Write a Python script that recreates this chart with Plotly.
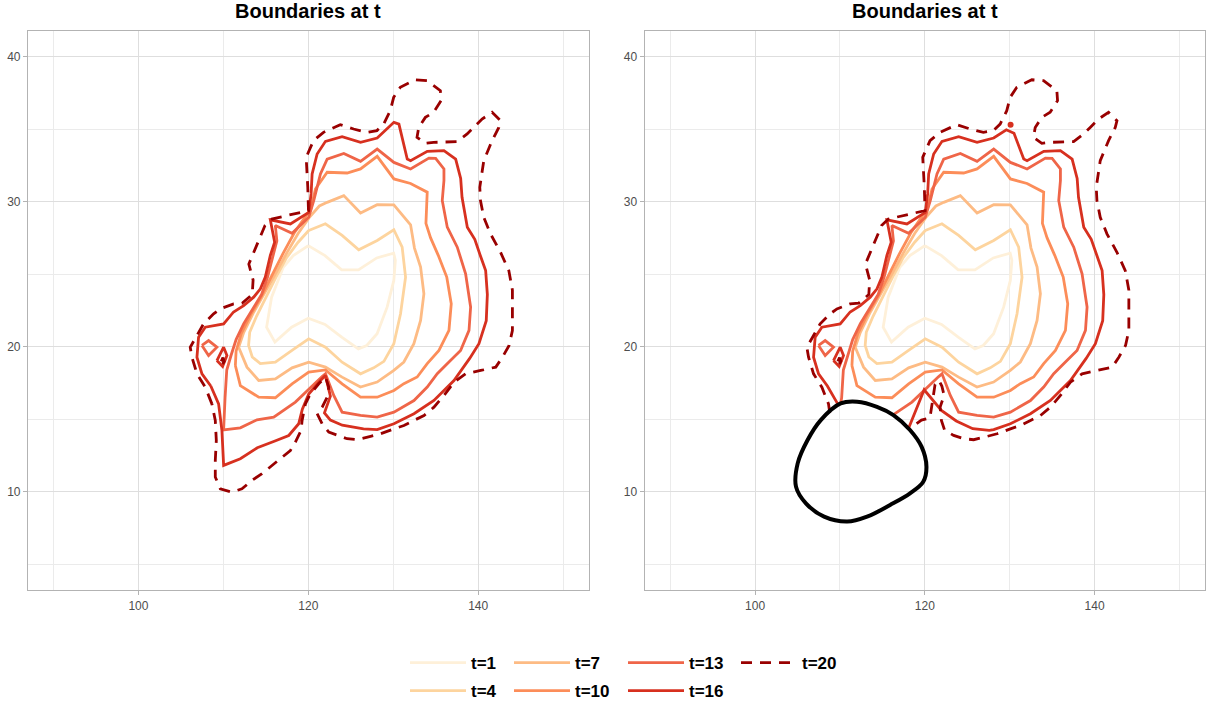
import plotly.graph_objects as go

# ---------------- data ----------------
T_LABELS = ["t=1", "t=4", "t=7", "t=10", "t=13", "t=16", "t=20"]
COLORS = ["#FEF0D9", "#FDD49E", "#FDBB84", "#FC8D59", "#EF6548", "#D7301F", "#990000"]
X_TICKS = [100, 120, 140]
X_MINOR = [90, 110, 130, 150]
Y_TICKS = [10, 20, 30, 40]
Y_MINOR = [5, 15, 25, 35]
PANEL_TITLES = ["Boundaries at t", "Boundaries at t"]

T1 = [(120.0, 26.97), (121.97, 26.28), (123.93, 25.3), (125.9, 25.3), (128.06, 26.12), (130.05, 26.45),
      (130.25, 25.95), (130.07, 24.57), (129.28, 22.73), (128.1, 20.9), (126.88, 20.09), (125.9, 19.86),
      (123.93, 20.67), (121.97, 21.54), (120.0, 21.97), (118.03, 21.35), (116.07, 20.32), (115.09, 21.35),
      (115.68, 23.42), (117.05, 25.48), (118.23, 26.28), (120.0, 26.97)]

T4 = [(120.05, 28.01), (122.01, 28.47), (123.98, 27.67), (125.94, 26.68), (128.11, 27.32), (130.07, 28.06),
      (131.05, 26.86), (131.45, 24.8), (130.86, 22.28), (130.07, 20.21), (128.9, 19.0), (127.7, 18.55),
      (126.15, 18.14), (123.98, 18.94), (122.02, 19.97), (120.05, 20.55), (118.08, 19.75), (116.12, 18.95),
      (114.35, 18.84), (113.4, 19.3), (112.97, 20.1), (113.1, 21.0), (113.9, 22.1), (115.0, 23.4),
      (116.2, 24.8), (117.4, 26.1), (118.8, 27.2), (120.05, 28.01)]

T7 = [(111.8, 19.97), (112.4, 21.0), (113.5, 22.3), (114.8, 23.6), (116.1, 25.0), (117.4, 26.4), (118.8, 27.8),
      (120.1, 28.9), (121.3, 29.7), (122.22, 29.95), (124.18, 30.41), (126.15, 29.22), (128.11, 29.79),
      (130.07, 29.78), (132.04, 28.4), (132.5, 26.8), (133.22, 25.49), (133.61, 23.65), (133.22, 21.82),
      (132.43, 20.21), (131.25, 18.95), (130.07, 18.38), (128.1, 17.57), (126.14, 17.23), (123.98, 17.91),
      (122.02, 18.6), (120.05, 18.94), (118.09, 18.55), (116.12, 17.79), (114.16, 17.68), (112.78, 18.6),
      (111.8, 19.97)]

T10 = [(111.41, 18.71), (111.5, 19.7), (112.1, 20.9), (113.2, 22.2), (114.5, 23.5), (115.7, 24.9), (117.0, 26.4),
       (118.4, 27.9), (119.6, 28.9), (120.3, 29.5), (120.84, 30.87), (122.22, 32.02), (124.57, 31.97),
       (126.15, 32.25), (128.11, 33.12), (130.08, 31.56), (132.04, 31.25), (134.0, 30.65), (133.85, 28.5),
       (134.4, 27.5), (135.3, 26.3), (136.3, 24.8), (136.83, 22.96), (136.56, 21.13), (135.38, 19.75),
       (134.0, 18.84), (132.82, 17.92), (131.25, 17.46), (130.08, 16.99), (128.11, 16.53), (126.15, 16.53),
       (123.98, 17.45), (122.02, 18.41), (120.05, 18.25), (118.09, 17.45), (116.12, 16.49), (114.16, 16.53),
       (112.0, 17.33), (111.41, 18.71)]

T13_MAIN = [(110.2, 16.5), (110.4, 18.4), (110.9, 19.4), (111.5, 20.5), (112.4, 21.6), (113.5, 22.6),
            (114.5, 23.6), (115.2, 24.8), (115.8, 26.2), (116.3, 27.3), (116.12, 28.35), (118.09, 27.82),
            (120.05, 28.92), (120.64, 30.07), (121.43, 31.9), (122.22, 32.93), (124.18, 33.32), (126.15, 32.77),
            (128.11, 33.62), (130.08, 32.7), (132.04, 32.25), (134.2, 33.0), (134.99, 32.98), (135.97, 32.25),
            (135.97, 31.45), (135.77, 30.08), (136.36, 28.24), (137.54, 26.86), (138.52, 25.03), (139.11, 22.73),
            (138.92, 21.13), (137.93, 19.75), (136.56, 18.95), (135.18, 18.15), (134.0, 17.23), (132.44, 16.3),
            (130.08, 15.5), (128.11, 15.16), (126.15, 15.27), (123.98, 15.5), (123.0, 16.65), (122.02, 18.14),
            (121.63, 17.95), (119.86, 16.99), (118.48, 16.19)]
T13_BOTTOM_L = [(115.93, 15.15), (113.96, 14.97), (112.0, 14.42), (110.03, 14.28), (110.2, 16.5)]
T13_START_R = [(110.1, 16.12)]
T13_END_R = [(116.3, 15.33)]
T13_ISLAND = [(107.48, 20.09), (108.26, 20.43), (109.24, 19.97), (108.26, 19.4), (107.48, 20.09)]

T16_MAIN_A = [(108.52, 17.3), (107.48, 18.14), (106.89, 19.28), (107.08, 20.66), (107.87, 21.35), (110.03, 21.58),
              (111.2, 22.4), (112.39, 22.84), (113.57, 23.42), (114.36, 23.99), (114.94, 24.8), (115.53, 26.29),
              (116.04, 27.2), (115.53, 28.74), (117.89, 28.46), (120.05, 29.26), (120.33, 30.53), (120.45, 31.9),
              (121.04, 33.28), (122.02, 34.15), (123.98, 34.47), (126.15, 34.08), (128.11, 34.38)]
T16_SPIKE_L = [(130.08, 35.46), (130.67, 35.34)]
T16_SPIKE_R = [(129.6, 34.95), (130.5, 34.7)]
T16_MAIN_B = [(131.65, 32.93), (132.04, 32.82), (134.01, 33.46), (135.97, 33.51), (137.35, 32.93), (137.94, 31.6),
              (138.1, 30.3), (138.72, 28.24), (139.6, 27.4), (140.3, 26.2), (140.88, 25.26), (141.08, 23.6),
              (140.95, 21.8), (140.09, 20.21), (139.0, 19.2), (137.15, 17.68), (134.79, 16.3), (132.44, 15.39),
              (130.08, 14.7), (128.11, 14.3)]
T16_BOTTOM_L = [(126.5, 14.35), (124.0, 14.6), (122.6, 14.95), (121.9, 15.45), (122.2, 16.0), (122.6, 16.6),
                (122.02, 18.02), (121.43, 17.68), (120.05, 16.75), (119.3, 15.7), (118.87, 14.7), (117.7, 13.89),
                (116.0, 13.5), (114.0, 13.05), (112.0, 12.29), (110.03, 11.83), (109.83, 14.24), (109.44, 16.07),
                (108.52, 17.3)]
T16_START_R = [(109.75, 16.05)]
T16_BOTTOM_R = [(127.59, 14.25), (125.64, 14.36), (123.7, 14.89), (121.95, 15.62), (119.92, 17.04), (118.06, 14.36)]
T16_ISLAND = [(109.24, 19.05), (110.03, 19.97), (110.42, 19.4), (109.91, 18.64), (109.24, 19.05)]
T16_DOT_R = [(130.1, 35.3)]

T20_MAIN = [(108.65, 16.07), (107.87, 17.22), (106.89, 18.14), (106.3, 19.28), (106.1, 19.97), (106.89, 20.78),
            (107.67, 21.58), (108.85, 22.27), (109.64, 22.61), (111.21, 22.96), (112.2, 23.0), (113.4, 23.6),
            (113.5, 24.6), (113.0, 25.7), (113.96, 27.09), (114.9, 28.35), (115.7, 28.8), (117.47, 29.04),
            (120.02, 29.38), (119.94, 30.99), (119.75, 33.05), (120.61, 34.2), (121.79, 34.77), (123.76, 35.3),
            (125.33, 35.0), (126.9, 34.77), (128.08, 34.89), (128.87, 35.34), (129.65, 36.26), (130.05, 37.18),
            (130.83, 37.87), (132.6, 38.39), (133.98, 38.33), (135.55, 37.64), (135.63, 36.95), (134.76, 36.15),
            (133.78, 35.8), (133.0, 35.11), (132.8, 34.43), (133.78, 34.01), (134.76, 34.08), (137.52, 34.13),
            (138.7, 34.66), (139.48, 35.11), (140.46, 35.69), (141.64, 36.15), (142.63, 35.57), (142.43, 35.11),
            (141.64, 34.2), (140.66, 32.82), (140.19, 30.99), (140.27, 30.07), (140.66, 28.92), (141.45, 27.78),
            (142.63, 26.51), (143.61, 25.25), (144.03, 23.9), (144.03, 21.12), (143.64, 20.09), (142.85, 19.28),
            (142.07, 18.6), (140.3, 18.37), (138.53, 18.14), (137.15, 17.56), (135.97, 16.65), (134.79, 15.84),
            (133.62, 15.27), (132.44, 14.93), (131.26, 14.58), (130.08, 14.35), (128.51, 14.01), (127.33, 13.83),
            (125.75, 13.6), (124.57, 13.67), (123.39, 13.9)]
T20_BOTTOM_L = [(122.41, 14.12), (121.63, 14.7), (121.04, 15.39), (121.63, 15.84), (122.22, 16.53), (122.41, 17.22),
                (122.02, 17.91), (121.23, 17.45), (120.25, 16.76), (119.66, 16.07), (119.27, 14.93), (119.15, 14.24),
                (118.48, 13.44), (117.89, 12.86), (116.71, 12.29), (115.73, 11.83), (114.55, 11.26), (113.37, 10.8),
                (112.19, 10.22), (111.01, 9.99), (109.64, 10.22), (109.05, 11.03), (109.05, 12.17), (109.17, 13.55),
                (109.05, 14.93), (108.65, 16.07)]
T20_START_R = [(108.8, 15.45)]
T20_BOTTOM_R = [(122.33, 14.25), (121.95, 14.93), (121.8, 15.85), (122.27, 16.65), (122.0, 17.3), (121.65, 17.7),
                (121.2, 17.4), (120.9, 16.3), (120.6, 15.1), (119.6, 14.95), (118.15, 14.33)]
T20_ISLAND = [(109.75, 19.0), (109.95, 19.25), (110.1, 19.0), (109.9, 18.8), (109.75, 19.0)]

OBSTACLE = [(110.08, 16.1), (112.02, 16.22), (114.36, 15.87), (116.3, 15.3), (118.25, 14.27), (119.61, 13.12),
            (120.19, 11.74), (119.81, 10.71), (118.25, 9.91), (115.91, 9.11), (113.19, 8.3), (110.86, 7.96),
            (108.13, 8.3), (105.99, 9.22), (104.82, 10.37), (105.02, 11.97), (106.19, 13.58), (107.74, 14.95),
            (110.08, 16.1)]

# ---------------- assemble ----------------
LEFT = {
    "t=1": [T1], "t=4": [T4], "t=7": [T7], "t=10": [T10],
    "t=13": [T13_MAIN + T13_BOTTOM_L, T13_ISLAND],
    "t=16": [T16_MAIN_A + T16_SPIKE_L + T16_MAIN_B + T16_BOTTOM_L, T16_ISLAND],
    "t=20": [T20_MAIN + T20_BOTTOM_L, T20_ISLAND],
}
RIGHT = {
    "t=1": [T1], "t=4": [T4], "t=7": [T7], "t=10": [T10],
    "t=13": [T13_START_R + T13_MAIN + T13_END_R, T13_ISLAND],
    "t=16": [T16_START_R + T16_MAIN_A + T16_SPIKE_R + T16_MAIN_B + T16_BOTTOM_R, T16_ISLAND],
    "t=20": [T20_START_R + T20_MAIN + T20_BOTTOM_R, T20_ISLAND],
}
LEGEND_OF = {"t=1": "legend", "t=4": "legend", "t=7": "legend2", "t=10": "legend2",
             "t=13": "legend3", "t=16": "legend3", "t=20": "legend4"}


def xy(segs):
    xs, ys = [], []
    for i, s in enumerate(segs):
        if i:
            xs.append(None)
            ys.append(None)
        xs += [p[0] for p in s]
        ys += [p[1] for p in s]
    return xs, ys


fig = go.Figure()
LW = 2.8
for panel, data, ax in [(0, LEFT, ("x", "y")), (1, RIGHT, ("x2", "y2"))]:
    for lab, col in zip(T_LABELS, COLORS):
        xs, ys = xy(data[lab])
        dash = "11px,8px" if lab == "t=20" else "solid"
        fig.add_trace(go.Scatter(
            x=xs, y=ys, mode="lines", name=f"<b>{lab}</b>",
            line=dict(color=col, width=LW, dash=dash),
            xaxis=ax[0], yaxis=ax[1], showlegend=(panel == 0),
            legend=LEGEND_OF[lab], legendgroup=lab, hoverinfo="skip"))

fig.add_trace(go.Scatter(x=[p[0] for p in T16_DOT_R], y=[p[1] for p in T16_DOT_R], mode="markers",
                         marker=dict(color=COLORS[5], size=6), xaxis="x2", yaxis="y2",
                         showlegend=False, hoverinfo="skip"))
fig.add_trace(go.Scatter(x=[p[0] for p in OBSTACLE], y=[p[1] for p in OBSTACLE], mode="lines",
                         line=dict(color="black", width=4, shape="spline", smoothing=1.0),
                         xaxis="x2", yaxis="y2", showlegend=False, hoverinfo="skip"))

W, H = 1209, 702
ML, MR, MT, MB = 28, 4, 31, 112
PW = W - ML - MR
PH = H - MT - MB
dom1 = [0, 560.6 / PW]
dom2 = [(644.7 - ML) / PW, 1]

axis_common = dict(
    showgrid=True, gridcolor="#DEDEDE", gridwidth=1.1, zeroline=False,
    ticks="outside", ticklen=4, tickwidth=1, tickcolor="#B3B3B3",
    tickfont=dict(size=12, color="#4D4D4D"),
    showline=True, mirror=True, linecolor="#B3B3B3", linewidth=1.2,
)
xa = dict(axis_common, range=[87, 153], tickmode="array", tickvals=X_TICKS,
          minor=dict(tickmode="array", tickvals=X_MINOR, showgrid=True, gridcolor="#EBEBEB", gridwidth=0.6, ticks=""))
ya = dict(axis_common, range=[3.25, 41.75], tickmode="array", tickvals=Y_TICKS,
          minor=dict(tickmode="array", tickvals=Y_MINOR, showgrid=True, gridcolor="#EBEBEB", gridwidth=0.6, ticks=""))


def px2paper_x(px):
    return (px - ML) / PW


def py2paper_y(py):
    return (H - MB - py) / PH


leg_common = dict(orientation="v", xanchor="left", yanchor="top", y=py2paper_y(645),
                  font=dict(size=17, color="black"), itemwidth=56, bgcolor="rgba(0,0,0,0)",
                  tracegroupgap=3)
fig.update_layout(
    width=W, height=H, margin=dict(l=ML, r=MR, t=MT, b=MB, autoexpand=False),
    paper_bgcolor="white", plot_bgcolor="white",
    font=dict(family="Liberation Sans, Arial, sans-serif"),
    xaxis=dict(xa, domain=dom1, anchor="y"),
    yaxis=dict(ya, domain=[0, 1], anchor="x"),
    xaxis2=dict(xa, domain=dom2, anchor="y2"),
    yaxis2=dict(ya, domain=[0, 1], anchor="x2"),
    legend=dict(leg_common, x=px2paper_x(405)),
    legend2=dict(leg_common, x=px2paper_x(509)),
    legend3=dict(leg_common, x=px2paper_x(623)),
    legend4=dict(leg_common, x=px2paper_x(736)),
    annotations=[
        dict(text=f"<b>{PANEL_TITLES[0]}</b>", x=(dom1[0] + dom1[1]) / 2, y=1, xref="paper", yref="paper",
             xanchor="center", yanchor="bottom", yshift=7, showarrow=False, font=dict(size=20, color="black")),
        dict(text=f"<b>{PANEL_TITLES[1]}</b>", x=(dom2[0] + dom2[1]) / 2, y=1, xref="paper", yref="paper",
             xanchor="center", yanchor="bottom", yshift=7, showarrow=False, font=dict(size=20, color="black")),
    ],
)

fig.write_html("out.html", config={"displayModeBar": False},
               post_script="document.body.style.margin='0px';")
